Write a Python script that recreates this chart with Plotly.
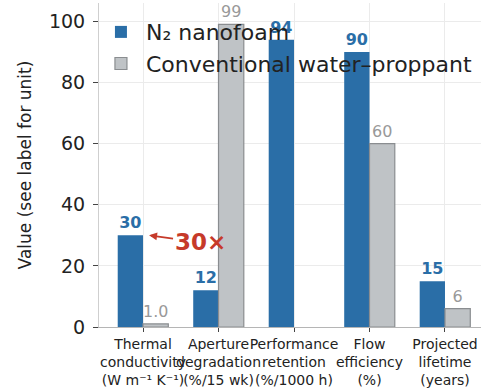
import plotly.graph_objects as go

categories = [
    "Thermal<br>conductivity<br>(W m⁻¹ K⁻¹)",
    "Aperture<br>degradation<br>(%/15 wk)",
    "Performance<br>retention<br>(%/1000 h)",
    "Flow<br>efficiency<br>(%)",
    "Projected<br>lifetime<br>(years)",
]
nanofoam = [30, 12, 94, 90, 15]
conventional = [1.0, 99, None, 60, 6]
nanofoam_labels = ["30", "12", "94", "90", "15"]
conventional_labels = ["1.0", "99", "", "60", "6"]

BLUE = "#2a6ea7"
GRAY = "#bfc3c6"
GRAY_EDGE = "#8a8d90"
RED = "#c63a2a"

fig = go.Figure()
fig.add_trace(go.Bar(
    x=categories, y=nanofoam, name="N₂ nanofoam",
    marker=dict(color=BLUE, line=dict(width=0)),
    text=["<b>%s</b>" % t for t in nanofoam_labels],
    textposition="outside", cliponaxis=False,
    textfont=dict(color=BLUE, size=16, family="DejaVu Sans"),
))
fig.add_trace(go.Bar(
    x=categories, y=conventional, name="Conventional water–proppant",
    marker=dict(color=GRAY, line=dict(color=GRAY_EDGE, width=1.2)),
    text=conventional_labels,
    textposition="outside", cliponaxis=False,
    textfont=dict(color="#999999", size=16, family="DejaVu Sans"),
))

fig.add_annotation(
    x=0.08, y=30, xref="x", yref="y",
    text="<b>30×</b>", showarrow=True,
    ax=51, ay=7, axref="pixel", ayref="pixel",
    arrowhead=2, arrowsize=1, arrowwidth=1.6, arrowcolor=RED,
    font=dict(color=RED, size=23, family="DejaVu Sans"),
)

fig.update_layout(
    width=481, height=391,
    margin=dict(l=99, r=0, t=3, b=64, autoexpand=False),
    paper_bgcolor="white", plot_bgcolor="white",
    barmode="group", bargap=0.33, bargroupgap=0,
    font=dict(family="DejaVu Sans", color="#222222"),
    showlegend=True,
    legend=dict(
        x=-0.008, y=0.975, xanchor="left", yanchor="top",
        bgcolor="rgba(0,0,0,0)", font=dict(size=22, color="#222222"),
        itemwidth=40,
    ),
)
fig.update_xaxes(
    range=[-0.583, 4.477], showgrid=True, gridcolor="#ebebeb",
    showline=True, linecolor="#b5b5b5", linewidth=1, automargin=False,
    ticks="outside", ticklen=4, tickcolor="#444444",
    tickfont=dict(size=14, color="#222222"), tickangle=0,
)
fig.update_yaxes(
    range=[0, 106], tickvals=[0, 20, 40, 60, 80, 100],
    showgrid=True, gridcolor="#ebebeb", zeroline=False,
    showline=True, linecolor="#cfcfcf", linewidth=1, automargin=False,
    ticks="outside", ticklen=5, tickcolor="#444444", ticklabelstandoff=4,
    tickfont=dict(size=19, color="#222222"),
    title=dict(text="Value (see label for unit)", font=dict(size=17, color="#222222"), standoff=12),
)

fig.write_html(
    "out.html",
    config={"displayModeBar": False},
    post_script="document.body.style.margin='0';document.body.style.padding='0';",
)
